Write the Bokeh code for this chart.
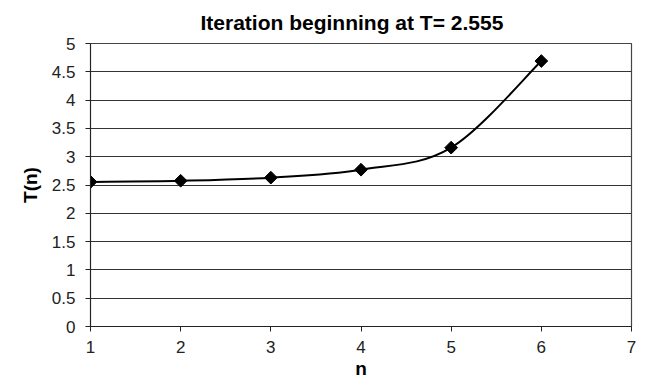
import numpy as np
from bokeh.plotting import figure
from bokeh.models import Range1d, FixedTicker
from bokeh.embed import file_html
from bokeh.resources import INLINE

# data
n_vals = [1, 2, 3, 4, 5, 6]
t_vals = [2.555, 2.575, 2.63, 2.77, 3.16, 4.69]
x_ticks = [1, 2, 3, 4, 5, 6, 7]
y_ticks = [0, 0.5, 1, 1.5, 2, 2.5, 3, 3.5, 4, 4.5, 5]
title_text = "Iteration beginning at T= 2.555"
x_label = "n"
y_label = "T(n)"

FONT = "Liberation Sans"

p = figure(width=647, height=386, output_backend="svg", toolbar_location=None,
           x_range=Range1d(1, 7), y_range=Range1d(0, 5), title=title_text)
p.min_border_left = 90
p.min_border_right = 16
p.min_border_top = 43
p.min_border_bottom = 60

p.title.text_font = FONT
p.title.text_font_size = "21px"
p.title.text_font_style = "bold"
p.title.align = "left"
p.title.offset = 110
p.title.vertical_align = "middle"
p.title.text_color = "black"
p.title.standoff = 18

p.outline_line_color = "#444444"
p.outline_line_width = 1.2
p.background_fill_color = "white"
p.border_fill_color = "white"

p.xgrid.visible = False
p.ygrid.ticker = FixedTicker(ticks=y_ticks)
p.ygrid.grid_line_color = "#333333"
p.ygrid.grid_line_width = 1
p.ygrid.grid_line_alpha = 1

for ax in (p.xaxis[0], p.yaxis[0]):
    ax.axis_line_color = "#222222"
    ax.major_tick_line_color = "#222222"
    ax.minor_tick_line_color = None
    ax.major_tick_in = 0
    ax.major_tick_out = 5
    ax.major_label_text_font = FONT
    ax.major_label_text_font_size = "17px"
    ax.major_label_text_color = "#222222"
    ax.axis_label_text_font = FONT
    ax.axis_label_text_font_size = "19px"
    ax.axis_label_text_font_style = "bold"
    ax.axis_label_text_color = "black"

p.xaxis.ticker = FixedTicker(ticks=x_ticks)
p.yaxis.ticker = FixedTicker(ticks=y_ticks)
p.xaxis.axis_label = x_label
p.yaxis.axis_label = y_label
p.xaxis.major_label_standoff = 9
p.yaxis.major_label_standoff = 10
p.xaxis.axis_label_standoff = 2
p.yaxis.axis_label_standoff = 8

# smoothed line (Catmull-Rom style Bezier segments computed from the data)
x = np.array(n_vals, dtype=float)
y = np.array(t_vals, dtype=float)
k = 1.0 / 6.0
xp = np.concatenate([[x[0]], x, [x[-1]]])
yp = np.concatenate([[y[0]], y, [y[-1]]])
x0, y0, x1, y1, cx0, cy0, cx1, cy1 = [], [], [], [], [], [], [], []
for i in range(len(x) - 1):
    j = i + 1
    x0.append(x[i]); y0.append(y[i]); x1.append(x[i + 1]); y1.append(y[i + 1])
    cx0.append(x[i] + (xp[j + 1] - xp[j - 1]) * k)
    cy0.append(y[i] + (yp[j + 1] - yp[j - 1]) * k)
    cx1.append(x[i + 1] - (xp[j + 2] - xp[j]) * k)
    cy1.append(y[i + 1] - (yp[j + 2] - yp[j]) * k)
p.bezier(x0=x0, y0=y0, x1=x1, y1=y1, cx0=cx0, cy0=cy0, cx1=cx1, cy1=cy1,
         line_color="black", line_width=2)

p.scatter(n_vals, t_vals, marker="square", angle=np.pi / 4, size=9,
          fill_color="black", line_color="black")

open("out.html", "w").write(file_html(p, INLINE))
